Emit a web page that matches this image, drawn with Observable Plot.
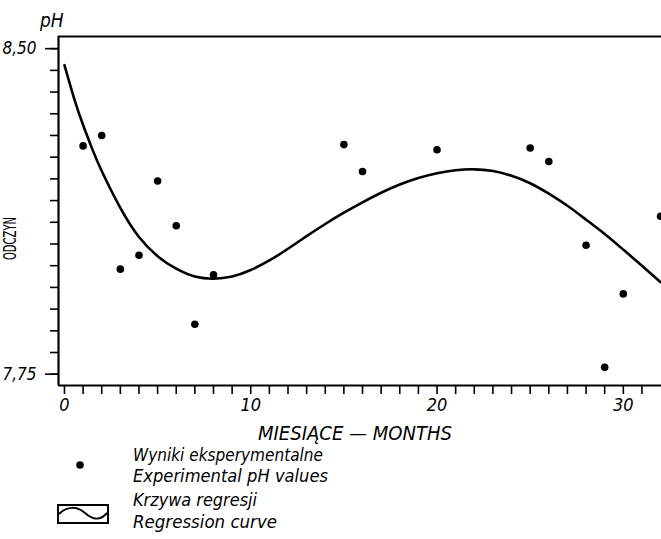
<!DOCTYPE html>
<html>
<head>
<meta charset="utf-8">
<script src="https://cdn.jsdelivr.net/npm/d3@7"></script>
<script src="https://cdn.jsdelivr.net/npm/@observablehq/plot@0.6"></script>
<style>
  html, body { margin: 0; padding: 0; background: #fff; }
  #wrap { position: relative; width: 661px; height: 539px; overflow: hidden; background: #fff; }
  #wrap > svg { position: absolute; left: 0; top: 0; }
</style>
</head>
<body>
<div id="wrap"></div>
<script>
// ---- data ----
const expMonths = [1, 2, 3, 4, 5, 6, 7, 8, 15, 16, 20, 25, 26, 28, 29, 30, 32];
const expPH     = [8.276, 8.300, 7.992, 8.024, 8.195, 8.092, 7.865, 7.979, 8.279, 8.217, 8.267, 8.271, 8.240, 8.047, 7.766, 7.935, 8.114];

const curveMonths = [0, 0.5, 1, 1.5, 2, 3, 4, 5, 6, 7, 8, 9, 10, 11, 12, 13, 14, 15, 16, 17, 18, 19, 20, 21, 22, 23, 24, 25, 26, 27, 28, 29, 30, 31, 32];
const curvePH     = [8.462, 8.388, 8.324, 8.268, 8.218, 8.133, 8.066, 8.022, 7.993, 7.975, 7.970, 7.975, 7.990, 8.012, 8.039, 8.068, 8.096, 8.122, 8.146, 8.168, 8.187, 8.202, 8.213, 8.220, 8.222, 8.218, 8.207, 8.190, 8.166, 8.138, 8.106, 8.073, 8.037, 8.000, 7.962];

const xDomain = [-0.32, 32.05];
const yDomain = [7.724, 8.528];
const xTicks = d3.range(0, 32, 1);
const xTickLabels = [0, 10, 20, 30];
const yTicks = [7.75, 7.80, 7.85, 7.90, 7.95, 8.00, 8.05, 8.10, 8.15, 8.20, 8.25, 8.30, 8.35, 8.40, 8.45, 8.50];
const yTickLabels = [7.75, 8.50];

const yAxisTitle = "ODCZYN";
const yUnit = "pH";
const xAxisTitle = "MIESIĄCE — MONTHS";
const legendDots = ["Wyniki eksperymentalne", "Experimental pH values"];
const legendCurve = ["Krzywa regresji", "Regression curve"];

const points = expMonths.map((m, i) => ({month: m, ph: expPH[i]}));
const curve = curveMonths.map((m, i) => ({month: m, ph: curvePH[i]}));

const FONT = "'DejaVu Sans Condensed', 'DejaVu Sans', sans-serif";

const plot = Plot.plot({
  width: 661,
  height: 539,
  marginLeft: 58,
  marginRight: 0,
  marginTop: 36,
  marginBottom: 154,
  x: {domain: xDomain},
  y: {domain: yDomain},
  style: {fontFamily: FONT, fontSize: "17px", fontStyle: "italic", color: "black", background: "white"},
  marks: [
    Plot.axisY(yTicks, {tickSize: 8, tickFormat: () => "", strokeWidth: 1.6, label: null}),
    Plot.axisY(yTickLabels, {tickSize: 13, tickPadding: 9, strokeWidth: 1.6, label: null,
      tickFormat: d => d.toFixed(2).replace(".", ",")}),
    Plot.axisX(xTicks, {tickSize: 9, tickPadding: 4, strokeWidth: 1.6, label: null, fontSize: 18,
      tickFormat: d => xTickLabels.includes(d) ? String(d) : ""}),
    Plot.ruleX([xDomain[0]], {stroke: "black", strokeWidth: 2.2}),
    Plot.ruleY(yDomain, {stroke: "black", strokeWidth: 2.2}),
    Plot.line(curve, {x: "month", y: "ph", curve: "natural", stroke: "black", strokeWidth: 2.6}),
    Plot.dot(points, {x: "month", y: "ph", r: 3.8, fill: "black", stroke: "none"})
  ]
});
document.getElementById("wrap").appendChild(plot);

// ---- titles and legend (overlay) ----
const ov = d3.select("#wrap").append("svg")
  .attr("width", 661).attr("height", 539)
  .style("font-family", FONT).style("pointer-events", "none");

ov.append("text").attr("x", 40).attr("y", 27)
  .attr("font-size", 19).attr("font-style", "italic").text(yUnit);

ov.append("text")
  .attr("transform", "translate(15.5,238.5) rotate(-90) scale(0.62,1)")
  .attr("text-anchor", "middle")
  .attr("font-size", 18)
  .text(yAxisTitle);

ov.append("text").attr("x", 258).attr("y", 440)
  .attr("font-size", 19).attr("font-style", "italic")
  .attr("textLength", 194).attr("lengthAdjust", "spacingAndGlyphs")
  .text(xAxisTitle);

const legendRows = [
  {t: legendDots[0], y: 461, w: 190},
  {t: legendDots[1], y: 482, w: 195},
  {t: legendCurve[0], y: 506, w: 124},
  {t: legendCurve[1], y: 528, w: 144}
];
legendRows.forEach(r => {
  ov.append("text").attr("x", 133).attr("y", r.y)
    .attr("font-size", 18.5).attr("font-style", "italic")
    .attr("textLength", r.w).attr("lengthAdjust", "spacingAndGlyphs")
    .text(r.t);
});

ov.append("circle").attr("cx", 80).attr("cy", 465).attr("r", 3.8).attr("fill", "black");
ov.append("rect").attr("x", 58).attr("y", 505).attr("width", 50).attr("height", 18)
  .attr("fill", "none").attr("stroke", "black").attr("stroke-width", 2);
ov.append("path").attr("d", "M59,514 C67,506 77,506 85,513 S100,521 107,513")
  .attr("fill", "none").attr("stroke", "black").attr("stroke-width", 2);
</script>
</body>
</html>
